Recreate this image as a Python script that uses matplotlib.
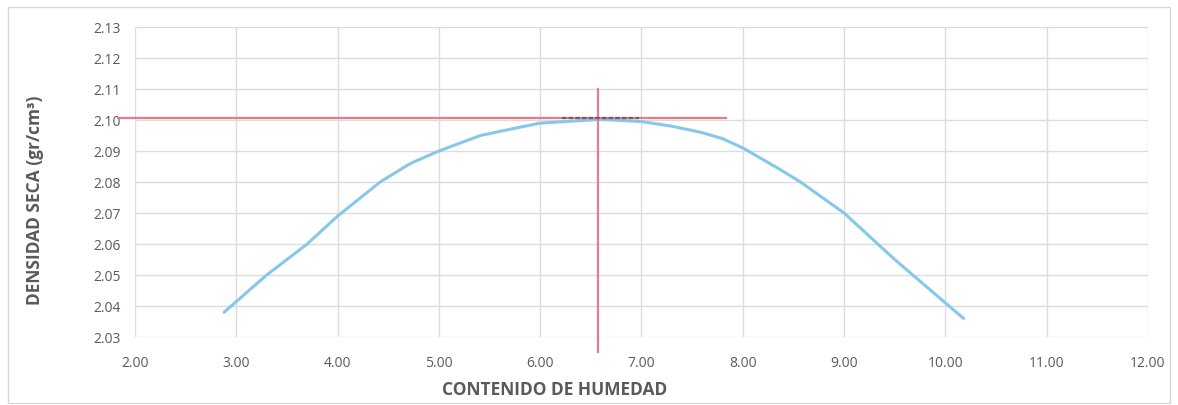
import numpy as np
import matplotlib.pyplot as plt
from matplotlib.patches import Rectangle

humedad = [2.88, 3.30, 3.70, 4.00, 4.42, 4.72, 5.00, 5.41, 5.70, 6.00, 6.60, 7.00,
           7.30, 7.59, 7.80, 8.00, 8.37, 8.57, 9.00, 9.50, 10.00, 10.18]
densidad = [2.038, 2.050, 2.060, 2.069, 2.080, 2.086, 2.090, 2.095, 2.097, 2.099, 2.1002, 2.0995,
            2.098, 2.096, 2.094, 2.091, 2.084, 2.080, 2.070, 2.055, 2.041, 2.036]

# lineas de lectura del optimo
mds_x = [1.83, 7.83]
mds_y = [2.1005, 2.1005]
och_x = [6.57, 6.57]
och_y = [2.110, 2.025]
marca_x = [6.22, 6.98]
marca_y = [2.1005, 2.1005]

xticks = [2, 3, 4, 5, 6, 7, 8, 9, 10, 11, 12]
yticks = [2.03, 2.04, 2.05, 2.06, 2.07, 2.08, 2.09, 2.10, 2.11, 2.12, 2.13]

plt.rcParams['font.family'] = ['Open Sans', 'DejaVu Sans']

fig = plt.figure(figsize=(11.78, 4.05), dpi=100)
ax = fig.add_axes([0.1146, 0.1679, 0.9745 - 0.1146, 0.9333 - 0.1679])

ax.plot(humedad, densidad, color='#86c8ea', lw=2.2, solid_capstyle='round', zorder=3)
ax.plot(mds_x, mds_y, color='#e87b8a', lw=1.6, clip_on=False, zorder=4)
ax.plot(och_x, och_y, color='#e87b8a', lw=1.6, clip_on=False, zorder=4)
ax.plot(marca_x, marca_y, color='#555555', lw=1.6, ls=(0, (2, 1)), alpha=0.8, zorder=5)

ax.set_xlim(2, 12)
ax.set_ylim(2.03, 2.13)
ax.set_xticks(xticks)
ax.set_xticklabels(['%.2f' % v for v in xticks])
ax.set_yticks(yticks)
ax.set_yticklabels(['%.2f' % v for v in yticks])
ax.tick_params(length=0, labelsize=10, labelcolor='#5a5a5a')
ax.tick_params(axis='x', pad=14)
ax.tick_params(axis='y', pad=10)
ax.grid(True, color='#dcdcdc', lw=1.0)
ax.set_axisbelow(True)
for s in ax.spines.values():
    s.set_visible(False)

ax.set_xlabel('CONTENIDO DE HUMEDAD', fontsize=12.5, color='#5a5a5a', fontweight='bold')
ax.set_ylabel('DENSIDAD SECA (gr/cm³)', fontsize=12.5, color='#5a5a5a', fontweight='bold')
ax.xaxis.set_label_coords(0.414, -0.142)
ax.yaxis.set_label_coords(-0.0898, 0.442)

fig.patches.append(Rectangle((0.007, 0.005), 0.986, 0.978, transform=fig.transFigure,
                             fill=False, edgecolor='#d8d8d8', lw=1.0))

plt.savefig('out.png', dpi=100)
